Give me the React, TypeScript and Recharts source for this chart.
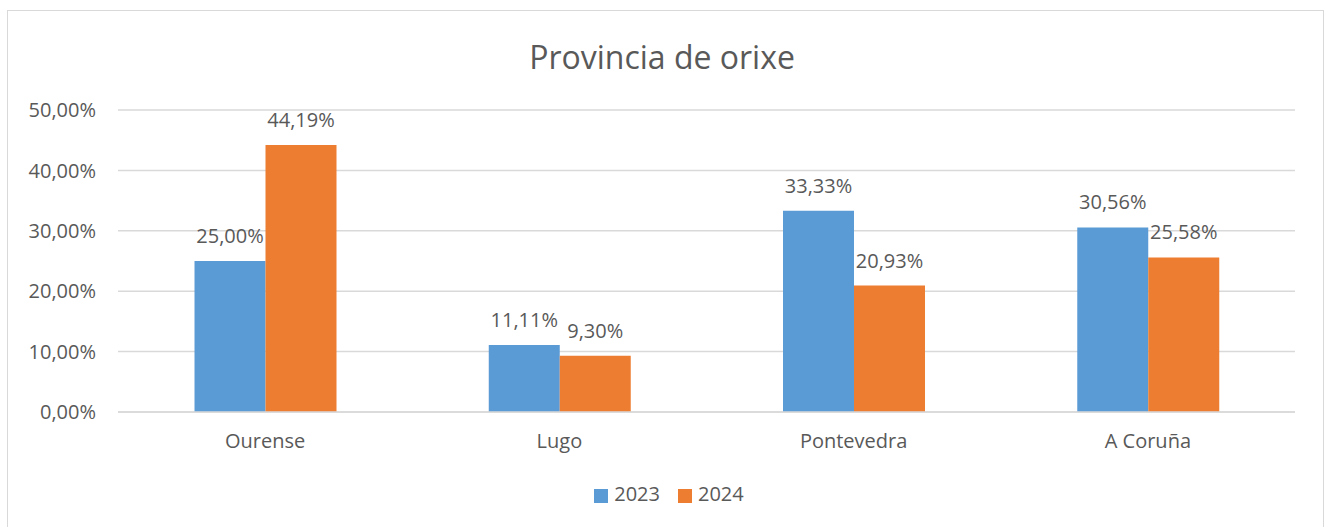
import { BarChart, Bar, XAxis, YAxis, CartesianGrid, Legend, LabelList } from "recharts";

const provinces = ["Ourense", "Lugo", "Pontevedra", "A Coruña"];
const values2023 = [25.0, 11.11, 33.33, 30.56];
const values2024 = [44.19, 9.3, 20.93, 25.58];
const yTicks = [0, 10, 20, 30, 40, 50];

const data = provinces.map((name, i) => ({
  name,
  y2023: values2023[i],
  y2024: values2024[i],
}));

const FONT = "'Open Sans', sans-serif";
const TEXT = "#595959";

const pct = (v: number) => `${v.toFixed(2).replace(".", ",")}%`;

export default function App() {
  return (
    <div
      style={{
        position: "absolute",
        left: 0,
        top: 0,
        width: 1324,
        height: 527,
        overflow: "hidden",
        background: "#fff",
        fontFamily: FONT,
      }}
    >
      <div
        style={{
          position: "absolute",
          left: 7,
          top: 10,
          width: 1315,
          height: 540,
          border: "1px solid #d9d9d9",
        }}
      />
      <div
        style={{
          position: "absolute",
          left: 0,
          top: 33,
          width: 1324,
          textAlign: "center",
          fontSize: 32,
          color: TEXT,
          lineHeight: "48px",
        }}
      >
        Provincia de orixe
      </div>
      <div style={{ position: "absolute", left: 0, top: 0 }}>
        <BarChart
          width={1324}
          height={527}
          data={data}
          margin={{ top: 110, right: 29, bottom: 58, left: 0 }}
          barCategoryGap="26%"
          barGap={0}
        >
          <CartesianGrid vertical={false} stroke="#d9d9d9" strokeWidth={1.5} />
          <XAxis
            dataKey="name"
            tickLine={false}
            axisLine={{ stroke: "#d9d9d9", strokeWidth: 1.5 }}
            tickSize={0}
            tickMargin={22}
            height={30}
            tick={{ fill: TEXT, fontSize: 20, fontFamily: FONT }}
          />
          <YAxis
            width={118}
            domain={[0, 50]}
            ticks={yTicks}
            tickFormatter={pct}
            axisLine={false}
            tickLine={false}
            tickSize={0}
            tickMargin={22}
            tick={{ fill: TEXT, fontSize: 20, fontFamily: FONT }}
          />
          <Legend
            verticalAlign="bottom"
            iconType="square"
            iconSize={14}
            wrapperStyle={{ top: 480, bottom: "auto", left: 16, width: 1324, fontSize: 20, fontFamily: FONT }}
            formatter={(value) => (
              <span style={{ color: TEXT, marginLeft: 2, marginRight: 8 }}>{value}</span>
            )}
          />
          <Bar dataKey="y2023" name="2023" fill="#5b9bd5" isAnimationActive={false}>
            <LabelList
              dataKey="y2023"
              position="top"
              offset={18}
              formatter={(v: number) => pct(v)}
              style={{ fill: TEXT, fontSize: 20, fontFamily: FONT }}
            />
          </Bar>
          <Bar dataKey="y2024" name="2024" fill="#ed7d31" isAnimationActive={false}>
            <LabelList
              dataKey="y2024"
              position="top"
              offset={18}
              formatter={(v: number) => pct(v)}
              style={{ fill: TEXT, fontSize: 20, fontFamily: FONT }}
            />
          </Bar>
        </BarChart>
      </div>
    </div>
  );
}
